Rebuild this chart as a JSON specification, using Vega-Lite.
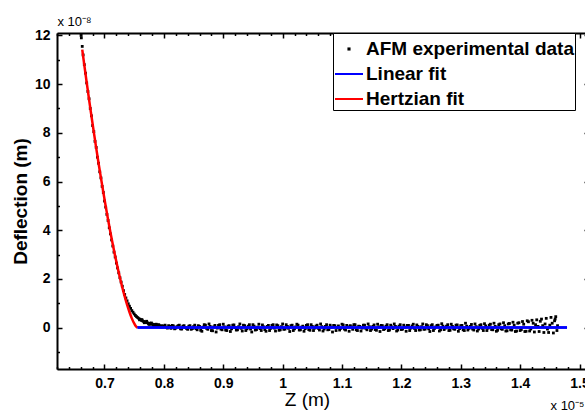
{
  "$schema": "https://vega.github.io/schema/vega-lite/v6.json",
  "width": 532,
  "height": 336,
  "autosize": {"type": "none"},
  "padding": {"left": 57, "top": 33, "right": 0, "bottom": 47},
  "background": "white",
  "config": {
    "view": {"stroke": null},
    "font": "Liberation Sans",
    "axis": {
      "grid": false,
      "domainColor": "black",
      "domainWidth": 2,
      "tickColor": "black",
      "tickWidth": 1.5,
      "labelColor": "black",
      "titleColor": "black",
      "labelFont": "Liberation Sans",
      "titleFont": "Liberation Sans"
    },
    "legend": {
      "orient": "none",
      "legendX": 276,
      "legendY": 0,
      "strokeColor": "black",
      "fillColor": "white",
      "padding": 1,
      "labelFont": "Liberation Sans",
      "labelFontSize": 19,
      "labelFontWeight": "bold",
      "labelColor": "black",
      "labelOffset": 2,
      "labelLimit": 0,
      "symbolSize": 784,
      "symbolStrokeWidth": 2,
      "rowPadding": -5
    }
  },
  "datasets": {
    "afm": [
      {"z": 0.6605, "d": 12.0}, {"z": 0.661, "d": 11.9}, {"z": 0.6625, "d": 11.55}, {"z": 0.664, "d": 11.2},
      {"z": 0.666, "d": 10.8}, {"z": 0.668, "d": 10.45}, {"z": 0.67, "d": 10.05}, {"z": 0.672, "d": 9.7},
      {"z": 0.674, "d": 9.4}, {"z": 0.676, "d": 9.0}, {"z": 0.678, "d": 8.7}, {"z": 0.68, "d": 8.3},
      {"z": 0.682, "d": 8.05}, {"z": 0.684, "d": 7.65}, {"z": 0.686, "d": 7.4}, {"z": 0.688, "d": 7.0},
      {"z": 0.69, "d": 6.75}, {"z": 0.692, "d": 6.4}, {"z": 0.694, "d": 6.15}, {"z": 0.696, "d": 5.8},
      {"z": 0.698, "d": 5.55}, {"z": 0.7, "d": 5.2}, {"z": 0.702, "d": 4.95}, {"z": 0.704, "d": 4.65},
      {"z": 0.706, "d": 4.4}, {"z": 0.708, "d": 4.1}, {"z": 0.71, "d": 3.85}, {"z": 0.712, "d": 3.6},
      {"z": 0.714, "d": 3.35}, {"z": 0.716, "d": 3.1}, {"z": 0.718, "d": 2.9}, {"z": 0.72, "d": 2.65},
      {"z": 0.722, "d": 2.45}, {"z": 0.724, "d": 2.25}, {"z": 0.726, "d": 2.05}, {"z": 0.728, "d": 1.87},
      {"z": 0.73, "d": 1.7}, {"z": 0.732, "d": 1.52}, {"z": 0.734, "d": 1.36}, {"z": 0.736, "d": 1.22},
      {"z": 0.738, "d": 1.1}, {"z": 0.74, "d": 0.98}, {"z": 0.742, "d": 0.88}, {"z": 0.744, "d": 0.79},
      {"z": 0.746, "d": 0.7}, {"z": 0.748, "d": 0.63}, {"z": 0.75, "d": 0.56}, {"z": 0.752, "d": 0.5},
      {"z": 0.754, "d": 0.45}, {"z": 0.756, "d": 0.41}, {"z": 0.758, "d": 0.37}, {"z": 0.76, "d": 0.34},
      {"z": 0.762, "d": 0.3}, {"z": 0.764, "d": 0.28}, {"z": 0.766, "d": 0.25}, {"z": 0.768, "d": 0.24},
      {"z": 0.77, "d": 0.21}, {"z": 0.772, "d": 0.2}, {"z": 0.774, "d": 0.17}, {"z": 0.776, "d": 0.18},
      {"z": 0.778, "d": 0.14}, {"z": 0.78, "d": 0.15}, {"z": 0.782, "d": 0.11}, {"z": 0.784, "d": 0.13},
      {"z": 0.786, "d": 0.09}, {"z": 0.788, "d": 0.11}, {"z": 0.79, "d": 0.07}, {"z": 0.792, "d": 0.1},
      {"z": 0.794, "d": 0.05}, {"z": 0.796, "d": 0.08}, {"z": 0.798, "d": 0.03}, {"z": 0.8, "d": 0.07},
      {"z": 0.759, "d": 0.32}, {"z": 0.763, "d": 0.33}, {"z": 0.767, "d": 0.2}, {"z": 0.771, "d": 0.26},
      {"z": 0.775, "d": 0.13}, {"z": 0.779, "d": 0.19}, {"z": 0.783, "d": 0.08}, {"z": 0.787, "d": 0.14},
      {"z": 0.791, "d": 0.12}, {"z": 0.795, "d": 0.03}, {"z": 0.802, "d": 0.1}, {"z": 0.806, "d": -0.02},
      {"z": 0.81, "d": 0.05}, {"z": 0.814, "d": 0.09}, {"z": 0.818, "d": -0.05}, {"z": 0.822, "d": 0.04},
      {"z": 0.826, "d": 0.1}, {"z": 0.83, "d": -0.06}, {"z": 0.834, "d": 0.08}, {"z": 0.838, "d": -0.03},
      {"z": 0.842, "d": 0.06}, {"z": 0.846, "d": -0.07}, {"z": 0.85, "d": 0.04},
      {"z": 0.804, "d": 0.02}, {"z": 0.808, "d": 0.08}, {"z": 0.812, "d": -0.03}, {"z": 0.816, "d": 0.07},
      {"z": 0.82, "d": -0.02}, {"z": 0.824, "d": 0.08}, {"z": 0.828, "d": -0.05}, {"z": 0.832, "d": 0.06},
      {"z": 0.836, "d": 0.01}, {"z": 0.84, "d": -0.07}, {"z": 0.844, "d": 0.08}, {"z": 0.848, "d": -0.04},
      {"z": 0.852, "d": 0.1}, {"z": 0.856, "d": -0.09}, {"z": 0.86, "d": 0.05}, {"z": 0.864, "d": -0.15},
      {"z": 0.868, "d": 0.12}, {"z": 0.872, "d": -0.03}, {"z": 0.876, "d": 0.15}, {"z": 0.88, "d": -0.12},
      {"z": 0.884, "d": 0.03}, {"z": 0.888, "d": -0.18}, {"z": 0.892, "d": 0.09}, {"z": 0.896, "d": -0.06},
      {"z": 0.9, "d": 0.14}, {"z": 0.904, "d": -0.1}, {"z": 0.908, "d": 0.06}, {"z": 0.912, "d": -0.16},
      {"z": 0.916, "d": 0.1}, {"z": 0.92, "d": 0.0}, {"z": 0.924, "d": -0.09}, {"z": 0.928, "d": 0.15},
      {"z": 0.932, "d": -0.14}, {"z": 0.936, "d": 0.08}, {"z": 0.94, "d": -0.05}, {"z": 0.944, "d": 0.12},
      {"z": 0.948, "d": -0.18}, {"z": 0.952, "d": 0.06}, {"z": 0.956, "d": -0.08}, {"z": 0.96, "d": 0.14},
      {"z": 0.964, "d": -0.12}, {"z": 0.968, "d": 0.03}, {"z": 0.972, "d": -0.15}, {"z": 0.976, "d": 0.09},
      {"z": 0.98, "d": -0.03}, {"z": 0.984, "d": 0.12}, {"z": 0.988, "d": -0.14}, {"z": 0.992, "d": 0.08},
      {"z": 0.996, "d": -0.09}, {"z": 1.0, "d": 0.15}, {"z": 1.004, "d": -0.06}, {"z": 1.008, "d": 0.05},
      {"z": 1.012, "d": -0.16}, {"z": 1.016, "d": 0.1}, {"z": 1.02, "d": -0.05}, {"z": 1.024, "d": 0.14},
      {"z": 1.028, "d": -0.1}, {"z": 1.032, "d": 0.02}, {"z": 1.036, "d": -0.15}, {"z": 1.04, "d": 0.09},
      {"z": 1.044, "d": -0.08}, {"z": 1.048, "d": 0.12}, {"z": 1.052, "d": -0.12}, {"z": 1.056, "d": 0.06},
      {"z": 1.06, "d": -0.03}, {"z": 1.064, "d": 0.15}, {"z": 1.068, "d": -0.14}, {"z": 1.072, "d": 0.05},
      {"z": 1.076, "d": -0.09}, {"z": 1.08, "d": 0.1}, {"z": 1.084, "d": -0.18}, {"z": 1.088, "d": 0.08},
      {"z": 1.092, "d": 0.0}, {"z": 1.096, "d": -0.1}, {"z": 1.1, "d": 0.14}, {"z": 1.104, "d": -0.06},
      {"z": 1.108, "d": 0.09}, {"z": 1.112, "d": -0.15}, {"z": 1.116, "d": 0.03}, {"z": 1.12, "d": 0.12},
      {"z": 1.124, "d": -0.09}, {"z": 1.128, "d": 0.06}, {"z": 1.132, "d": -0.14}, {"z": 1.136, "d": 0.1},
      {"z": 1.14, "d": -0.03}, {"z": 1.144, "d": 0.15}, {"z": 1.148, "d": -0.12}, {"z": 1.152, "d": 0.05},
      {"z": 1.156, "d": -0.08}, {"z": 1.16, "d": 0.14}, {"z": 1.164, "d": -0.16}, {"z": 1.168, "d": 0.08},
      {"z": 1.172, "d": -0.05}, {"z": 1.176, "d": 0.12}, {"z": 1.18, "d": -0.1}, {"z": 1.184, "d": 0.03},
      {"z": 1.188, "d": 0.15}, {"z": 1.192, "d": -0.14}, {"z": 1.196, "d": 0.06}, {"z": 1.2, "d": -0.08},
      {"z": 1.204, "d": 0.1}, {"z": 1.208, "d": -0.15}, {"z": 1.212, "d": 0.09}, {"z": 1.216, "d": -0.02},
      {"z": 1.22, "d": 0.14}, {"z": 1.224, "d": -0.12}, {"z": 1.228, "d": 0.05}, {"z": 1.232, "d": -0.09},
      {"z": 1.236, "d": 0.15}, {"z": 1.24, "d": -0.06}, {"z": 1.244, "d": 0.08}, {"z": 1.248, "d": -0.16},
      {"z": 1.252, "d": 0.12}, {"z": 1.256, "d": -0.03}, {"z": 1.26, "d": 0.09}, {"z": 1.264, "d": -0.14},
      {"z": 1.268, "d": 0.16}, {"z": 1.272, "d": -0.08}, {"z": 1.276, "d": 0.06}, {"z": 1.28, "d": -0.12},
      {"z": 1.284, "d": 0.14}, {"z": 1.288, "d": -0.05}, {"z": 1.292, "d": 0.1}, {"z": 1.296, "d": -0.15},
      {"z": 1.3, "d": 0.08}, {"z": 1.304, "d": -0.09}, {"z": 1.308, "d": 0.18}, {"z": 1.312, "d": -0.1},
      {"z": 1.316, "d": 0.05}, {"z": 1.32, "d": -0.06}, {"z": 1.324, "d": 0.15}, {"z": 1.328, "d": -0.14},
      {"z": 1.332, "d": 0.09}, {"z": 1.336, "d": -0.03}, {"z": 1.34, "d": 0.16}, {"z": 1.344, "d": -0.12},
      {"z": 1.348, "d": 0.1}, {"z": 1.352, "d": -0.08}, {"z": 1.356, "d": 0.18}, {"z": 1.36, "d": -0.15},
      {"z": 1.364, "d": 0.12}, {"z": 1.368, "d": -0.05}, {"z": 1.372, "d": 0.2}, {"z": 1.376, "d": -0.14},
      {"z": 1.38, "d": 0.15}, {"z": 1.384, "d": -0.09}, {"z": 1.388, "d": 0.22}, {"z": 1.392, "d": -0.16},
      {"z": 1.396, "d": 0.18}, {"z": 1.4, "d": -0.12}, {"z": 1.404, "d": 0.25}, {"z": 1.408, "d": -0.16},
      {"z": 1.412, "d": 0.28}, {"z": 1.416, "d": -0.14}, {"z": 1.42, "d": 0.3}, {"z": 1.424, "d": -0.18},
      {"z": 1.426, "d": 0.12}, {"z": 1.428, "d": 0.32}, {"z": 1.432, "d": -0.16}, {"z": 1.436, "d": 0.35},
      {"z": 1.438, "d": 0.08}, {"z": 1.44, "d": -0.2}, {"z": 1.444, "d": 0.38}, {"z": 1.446, "d": -0.06},
      {"z": 1.448, "d": -0.2}, {"z": 1.452, "d": 0.42}, {"z": 1.454, "d": 0.18}, {"z": 1.456, "d": -0.22},
      {"z": 1.458, "d": 0.28}, {"z": 1.46, "d": 0.45}, {"z": 1.462, "d": -0.12}, {"z": 1.463, "d": 0.08},
      {"z": 0.854, "d": -0.04}, {"z": 0.858, "d": 0.08}, {"z": 0.862, "d": -0.11}, {"z": 0.866, "d": 0.02},
      {"z": 0.87, "d": 0.1}, {"z": 0.874, "d": -0.07}, {"z": 0.878, "d": 0.05}, {"z": 0.882, "d": -0.13},
      {"z": 0.886, "d": 0.09}, {"z": 0.89, "d": -0.02}, {"z": 0.894, "d": 0.12}, {"z": 0.898, "d": -0.09},
      {"z": 0.902, "d": 0.03}, {"z": 0.906, "d": -0.12}, {"z": 0.91, "d": 0.08}, {"z": 0.914, "d": -0.05},
      {"z": 0.918, "d": 0.11}, {"z": 0.922, "d": -0.1}, {"z": 0.926, "d": 0.04}, {"z": 0.93, "d": -0.03},
      {"z": 0.934, "d": 0.1}, {"z": 0.938, "d": -0.12}, {"z": 0.942, "d": 0.06}, {"z": 0.946, "d": -0.06},
      {"z": 0.95, "d": 0.12}, {"z": 0.954, "d": -0.1}, {"z": 0.958, "d": 0.02}, {"z": 0.962, "d": -0.04},
      {"z": 0.966, "d": 0.11}, {"z": 0.97, "d": -0.08}, {"z": 0.974, "d": 0.05}, {"z": 0.978, "d": -0.12},
      {"z": 0.982, "d": 0.09}, {"z": 0.986, "d": -0.02}, {"z": 0.99, "d": 0.11}, {"z": 0.994, "d": -0.11},
      {"z": 0.998, "d": 0.04}, {"z": 1.002, "d": -0.07}, {"z": 1.006, "d": 0.12}, {"z": 1.01, "d": -0.03},
      {"z": 1.014, "d": 0.08}, {"z": 1.018, "d": -0.12}, {"z": 1.022, "d": 0.03}, {"z": 1.026, "d": 0.1},
      {"z": 1.03, "d": -0.09}, {"z": 1.034, "d": 0.06}, {"z": 1.038, "d": -0.04}, {"z": 1.042, "d": 0.12},
      {"z": 1.046, "d": -0.11}, {"z": 1.05, "d": 0.05}, {"z": 1.054, "d": -0.02}, {"z": 1.058, "d": 0.1},
      {"z": 1.062, "d": -0.1}, {"z": 1.066, "d": 0.04}, {"z": 1.07, "d": -0.06}, {"z": 1.074, "d": 0.12},
      {"z": 1.078, "d": -0.08}, {"z": 1.082, "d": 0.02}, {"z": 1.086, "d": 0.09}, {"z": 1.09, "d": -0.12},
      {"z": 1.094, "d": 0.07}, {"z": 1.098, "d": -0.03}, {"z": 1.102, "d": 0.11}, {"z": 1.106, "d": -0.1},
      {"z": 1.11, "d": 0.03}, {"z": 1.114, "d": 0.08}, {"z": 1.118, "d": -0.07}, {"z": 1.122, "d": 0.12},
      {"z": 1.126, "d": -0.12}, {"z": 1.13, "d": 0.05}, {"z": 1.134, "d": -0.02}, {"z": 1.138, "d": 0.1},
      {"z": 1.142, "d": -0.09}, {"z": 1.146, "d": 0.04}, {"z": 1.15, "d": -0.06}, {"z": 1.154, "d": 0.11},
      {"z": 1.158, "d": -0.11}, {"z": 1.162, "d": 0.03}, {"z": 1.166, "d": 0.09}, {"z": 1.17, "d": -0.08},
      {"z": 1.174, "d": 0.06}, {"z": 1.178, "d": -0.12}, {"z": 1.182, "d": 0.1}, {"z": 1.186, "d": -0.04},
      {"z": 1.19, "d": 0.05}, {"z": 1.194, "d": -0.1}, {"z": 1.198, "d": 0.12}, {"z": 1.202, "d": -0.06},
      {"z": 1.206, "d": 0.02}, {"z": 1.21, "d": 0.09}, {"z": 1.214, "d": -0.12}, {"z": 1.218, "d": 0.07},
      {"z": 1.222, "d": -0.03}, {"z": 1.226, "d": 0.11}, {"z": 1.23, "d": -0.1}, {"z": 1.234, "d": 0.04},
      {"z": 1.238, "d": -0.07}, {"z": 1.242, "d": 0.12}, {"z": 1.246, "d": -0.05}, {"z": 1.25, "d": 0.08},
      {"z": 1.254, "d": -0.12}, {"z": 1.258, "d": 0.03}, {"z": 1.262, "d": 0.1}, {"z": 1.266, "d": -0.09},
      {"z": 1.27, "d": 0.06}, {"z": 1.274, "d": -0.02}, {"z": 1.278, "d": 0.12}, {"z": 1.282, "d": -0.11},
      {"z": 1.286, "d": 0.05}, {"z": 1.29, "d": -0.07}, {"z": 1.294, "d": 0.11}, {"z": 1.298, "d": -0.04},
      {"z": 1.302, "d": 0.09}, {"z": 1.306, "d": -0.12}, {"z": 1.31, "d": 0.06}, {"z": 1.314, "d": -0.03},
      {"z": 1.318, "d": 0.13}, {"z": 1.322, "d": -0.1}, {"z": 1.326, "d": 0.04}, {"z": 1.33, "d": -0.06},
      {"z": 1.334, "d": 0.12}, {"z": 1.338, "d": -0.12}, {"z": 1.342, "d": 0.07}, {"z": 1.346, "d": -0.02},
      {"z": 1.35, "d": 0.14}, {"z": 1.354, "d": -0.09}, {"z": 1.358, "d": 0.05}, {"z": 1.362, "d": -0.11},
      {"z": 1.366, "d": 0.15}, {"z": 1.37, "d": -0.07}, {"z": 1.374, "d": 0.08}, {"z": 1.378, "d": -0.13},
      {"z": 1.382, "d": 0.17}, {"z": 1.386, "d": -0.1}, {"z": 1.39, "d": 0.1}, {"z": 1.394, "d": -0.14},
      {"z": 1.398, "d": 0.2}, {"z": 1.402, "d": -0.08}, {"z": 1.406, "d": 0.14}, {"z": 1.41, "d": -0.15},
      {"z": 1.414, "d": 0.24}, {"z": 1.418, "d": -0.06}, {"z": 1.422, "d": 0.18}, {"z": 1.43, "d": 0.05},
      {"z": 1.434, "d": 0.26}, {"z": 1.442, "d": 0.15}, {"z": 1.45, "d": 0.1}, {"z": 1.459, "d": 0.35}
    ],
    "hertz": [
      {"z": 0.6625, "d": 11.42}, {"z": 0.666, "d": 10.78}, {"z": 0.67, "d": 10.07}, {"z": 0.674, "d": 9.37},
      {"z": 0.678, "d": 8.69}, {"z": 0.682, "d": 8.03}, {"z": 0.686, "d": 7.38}, {"z": 0.69, "d": 6.75},
      {"z": 0.694, "d": 6.15}, {"z": 0.698, "d": 5.56}, {"z": 0.702, "d": 4.99}, {"z": 0.706, "d": 4.44},
      {"z": 0.71, "d": 3.91}, {"z": 0.714, "d": 3.41}, {"z": 0.718, "d": 2.93}, {"z": 0.722, "d": 2.48},
      {"z": 0.726, "d": 2.05}, {"z": 0.73, "d": 1.65}, {"z": 0.734, "d": 1.28}, {"z": 0.738, "d": 0.94},
      {"z": 0.742, "d": 0.64}, {"z": 0.746, "d": 0.38}, {"z": 0.75, "d": 0.17}, {"z": 0.752, "d": 0.09},
      {"z": 0.754, "d": 0.03}, {"z": 0.7556, "d": 0.0}
    ],
    "lin": [
      {"z": 0.7556, "d": 0.0}, {"z": 1.479, "d": 0.0}
    ]
  },
  "layer": [
    {
      "data": {"name": "afm"},
      "mark": {"type": "point", "filled": true, "size": 4900, "opacity": 1},
      "encoding": {
        "x": {
          "field": "z", "type": "quantitative",
          "scale": {"domain": [0.62, 1.516], "nice": false, "zero": false},
          "axis": {
            "orient": "bottom", "values": [0.7, 0.8, 0.9, 1, 1.1, 1.2, 1.3, 1.4, 1.5], "format": "~g",
            "tickSize": -5, "labelPadding": 12, "labelFontSize": 14, "labelFontWeight": "bold",
            "labelFlush": false, "labelOverlap": false,
            "title": "Z (m)", "titleFontSize": 19, "titleFontWeight": "normal", "titlePadding": 0, "titleX": 250
          }
        },
        "y": {
          "field": "d", "type": "quantitative",
          "scale": {"domain": [-1.7, 12.1], "nice": false, "zero": false},
          "axis": {
            "orient": "left", "values": [0, 2, 4, 6, 8, 10, 12],
            "tickSize": -5, "labelPadding": 12, "labelFontSize": 14, "labelFontWeight": "bold",
            "labelFlush": false, "labelOverlap": false,
            "title": "Deflection (m)", "titleFontSize": 19, "titleFontWeight": "bold", "titlePadding": 4
          }
        },
        "color": {
          "datum": "AFM experimental data",
          "scale": {"domain": ["AFM experimental data", "Linear fit", "Hertzian fit"], "range": ["black", "blue", "red"]},
          "legend": {"title": null}
        },
        "shape": {
          "datum": "AFM experimental data",
          "scale": {"domain": ["AFM experimental data", "Linear fit", "Hertzian fit"], "range": ["M-0.04,-0.04H0.04V0.04H-0.04Z", "stroke", "stroke"]},
          "legend": {"title": null}
        }
      }
    },
    {
      "data": {"name": "hertz"},
      "mark": {"type": "line", "strokeWidth": 2.5, "interpolate": "monotone"},
      "encoding": {
        "x": {
          "field": "z", "type": "quantitative",
          "scale": {"domain": [0.62, 1.516], "nice": false, "zero": false},
          "axis": {
            "orient": "top", "values": [0.7, 0.8, 0.9, 1, 1.1, 1.2, 1.3, 1.4, 1.5],
            "tickSize": -5, "labels": false,
            "title": "x 10⁻⁸", "titleFontSize": 13, "titleFontWeight": "normal",
            "titleAnchor": "start", "titleAlign": "left", "titlePadding": 4
          }
        },
        "y": {
          "field": "d", "type": "quantitative",
          "scale": {"domain": [-1.7, 12.1], "nice": false, "zero": false},
          "axis": {"orient": "right", "values": [0, 2, 4, 6, 8, 10, 12], "tickSize": -5, "labels": false, "title": null}
        },
        "color": {"datum": "Hertzian fit", "legend": {"title": null}}
      }
    },
    {
      "data": {"name": "lin"},
      "mark": {"type": "line", "strokeWidth": 2.5},
      "encoding": {
        "x": {
          "field": "z", "type": "quantitative",
          "scale": {"domain": [0.62, 1.516], "nice": false, "zero": false},
          "axis": {
            "orient": "bottom",
            "values": [0.62, 0.64, 0.66, 0.68, 0.72, 0.74, 0.76, 0.78, 0.82, 0.84, 0.86, 0.88, 0.92, 0.94, 0.96, 0.98, 1.02, 1.04, 1.06, 1.08, 1.12, 1.14, 1.16, 1.18, 1.22, 1.24, 1.26, 1.28, 1.32, 1.34, 1.36, 1.38, 1.42, 1.44, 1.46, 1.48, 1.52, 1.54],
            "tickSize": -2.5, "labels": false, "domain": false,
            "title": "x 10⁻⁵", "titleFontSize": 13, "titleFontWeight": "normal",
            "titleX": 527, "titleAlign": "right", "titlePadding": 30
          }
        },
        "y": {
          "field": "d", "type": "quantitative",
          "scale": {"domain": [-1.7, 12.1], "nice": false, "zero": false},
          "axis": {"orient": "left", "values": [-1, 1, 3, 5, 7, 9, 11], "tickSize": -2.5, "labels": false, "domain": false, "title": null}
        },
        "color": {"datum": "Linear fit", "legend": {"title": null}}
      }
    },
    {
      "data": {"name": "lin"},
      "mark": {"type": "line", "strokeWidth": 2.5},
      "encoding": {
        "x": {
          "field": "z", "type": "quantitative",
          "scale": {"domain": [0.62, 1.516], "nice": false, "zero": false},
          "axis": {
            "orient": "top",
            "values": [0.62, 0.64, 0.66, 0.68, 0.72, 0.74, 0.76, 0.78, 0.82, 0.84, 0.86, 0.88, 0.92, 0.94, 0.96, 0.98, 1.02, 1.04, 1.06, 1.08, 1.12, 1.14, 1.16, 1.18, 1.22, 1.24, 1.26, 1.28, 1.32, 1.34, 1.36, 1.38, 1.42, 1.44, 1.46, 1.48, 1.52, 1.54],
            "tickSize": -2.5, "labels": false, "domain": false, "title": null
          }
        },
        "y": {
          "field": "d", "type": "quantitative",
          "scale": {"domain": [-1.7, 12.1], "nice": false, "zero": false},
          "axis": {"orient": "right", "values": [-1, 1, 3, 5, 7, 9, 11], "tickSize": -2.5, "labels": false, "domain": false, "title": null}
        },
        "color": {"datum": "Linear fit", "legend": {"title": null}}
      }
    }
  ],
  "resolve": {"axis": {"x": "independent", "y": "independent"}}
}
